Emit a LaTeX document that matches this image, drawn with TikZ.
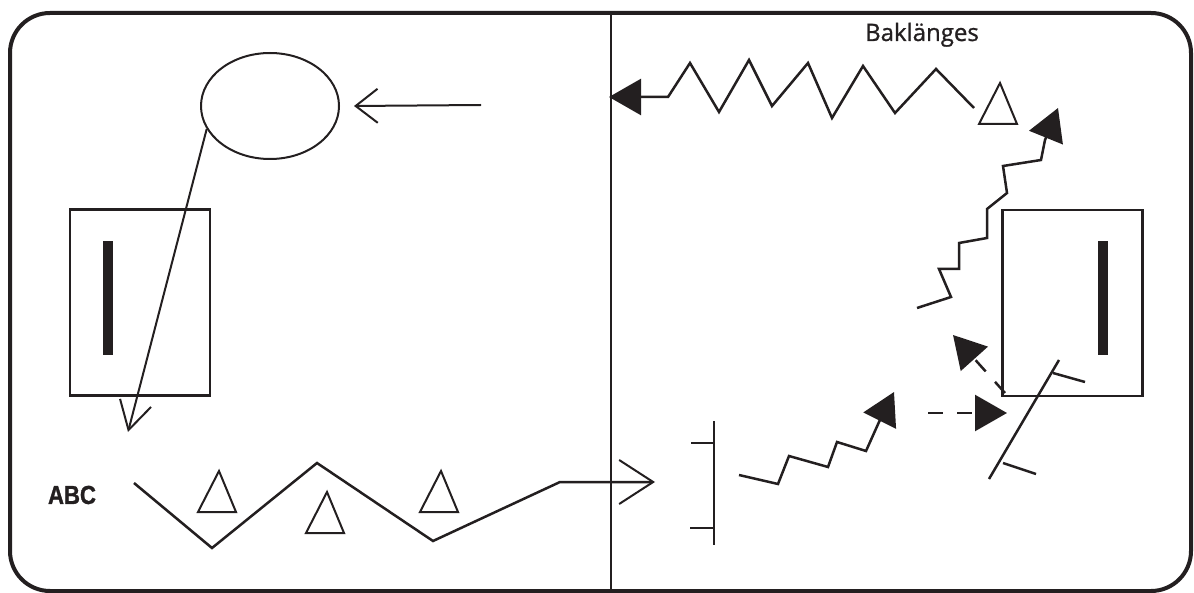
\documentclass[tikz,border=0pt]{standalone}
\usepackage{fontspec}
\usepackage{tikz}
\usepackage{xcolor}
\usetikzlibrary{arrows.meta}
\usetikzlibrary{shapes.geometric}
\newfontfamily\abcfont[FakeStretch=0.85,BoldFeatures={FakeBold=1.2}]{Liberation Sans}
\newfontfamily\labelfont[FakeBold=1.0]{Open Sans}
\definecolor{ink}{RGB}{35,31,32}

\tikzset{
  sketch/.style={draw=ink, line width=2.5pt},
  openarrow/.style={draw=ink, line width=2pt, -{Straight Barb[length=22pt,width=34pt]}},
  fullarrow/.style={-{Triangle[length=32pt,width=36pt,fill=ink]}},
  cone/.style={draw=ink, line width=2pt},
  glass/.style={draw=ink, line width=2.5pt, minimum width=140pt, minimum height=186pt, inner sep=0pt},
}

\begin{document}
\begin{tikzpicture}[x=1pt, y=-1pt]
    \useasboundingbox (0,0) rectangle (1194,593);

    % 1. Frame and the dividing line
    \draw[draw=ink, line width=4pt, rounded corners=40pt] (10,13) rectangle (1191,591);
    \draw[draw=ink, line width=2pt] (611,13) -- (611,591);

    % 2. Left half: the eye, the glass and the light path
    \node[draw=ink, ellipse, line width=2pt, minimum width=138pt, minimum height=106pt, inner sep=0pt] (eye) at (270,106) {};
    \node[glass] (leftglass) at (140,302.5) {};
    \fill[ink] (103,241) rectangle (113,355);
    \coordinate (lightin) at (481,105);
    \coordinate (lightout) at (128,432);
    \draw[openarrow] (lightin) -- ([xshift=14pt]eye.east);
    \draw[openarrow, -{Straight Barb[length=28pt,width=32pt]}] (eye.200) -- (lightout);

    % 3. Bottom zigzag with its label
    \node[font=\abcfont\bfseries\fontsize{26}{26}\selectfont, text=ink] (abc) at (72,495) {ABC};
    \coordinate (zigend) at (655,482);
    \draw[sketch, -{Straight Barb[length=34pt,width=44pt,line width=2pt]}]
        (134,483) -- (212,548) -- (317,463) -- (433,541) -- (560,482) -- (zigend);

    % 4. The small cones
    \foreach \x/\y in {219/471, 327/492, 441/471, 1000/83} {
        \draw[cone] (\x,\y) -- ++(-21,41) -- ++(38,0) -- cycle;
    }

    % 5. Right half: the backward zigzag
    \node[font=\labelfont\fontsize{24}{24}\selectfont, text=ink, anchor=base] (backlabel) at (922,41) {Baklänges};
    \coordinate (backend) at (609,97);
    \draw[sketch, fullarrow]
        (974,108) -- (936,69) -- (895,113) -- (863,66) -- (832,118) -- (808,63)
        -- (772,106) -- (749,60) -- (719,112) -- (690,63) -- (668,97) -- (backend);

    % 6. Right half: the glass and the mirror
    \node[glass] (rightglass) at (1072.5,303) {};
    \fill[ink] (1098,241) rectangle (1108,355);
    \draw[sketch] (1059,360) -- (989,479);
    \draw[sketch] (1053,373) -- (1085,382);
    \draw[sketch] (1003,463) -- (1036,474);

    % 7. Right half: the screen and the stepped rays
    \draw[sketch] (714,421) -- (714,545);
    \draw[sketch] (691,443) -- (714,443);
    \draw[sketch] (690,528) -- (714,528);
    \coordinate (raytip) at (894,392);
    \draw[sketch, fullarrow]
        (739,475) -- (778,484) -- (789,456) -- (828,467) -- (837,442) -- (866,451) -- (879,422) -- (raytip);
    \coordinate (uptip) at (1058,108);
    \draw[sketch, fullarrow]
        (917,308) -- (951,297) -- (939,269) -- (959,269) -- (959,243) -- (987,238)
        -- (987,209) -- (1007,193) -- (1003,166) -- (1041,160) -- (1045,140) -- (uptip);

    % 8. Dashed rays at the mirror
    \coordinate (dashstart) at (928,413);
    \coordinate (dashtip) at (1007,413);
    \draw[sketch, dash pattern=on 15pt off 14pt, fullarrow] (dashstart) -- (dashtip);
    \coordinate (reflstart) at (1005,393);
    \coordinate (refltip) at (953,335);
    \draw[sketch, dash pattern=on 15pt off 14pt, fullarrow] (reflstart) -- (refltip);

\end{tikzpicture}
\end{document}
